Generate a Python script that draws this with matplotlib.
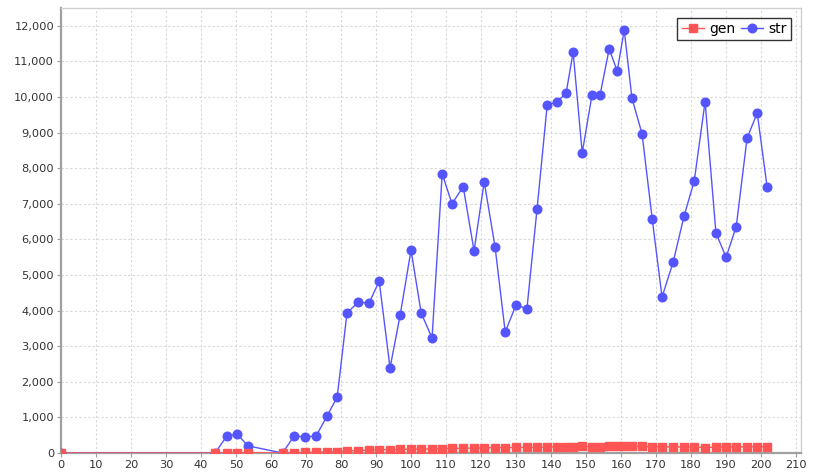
import numpy as np
import matplotlib
matplotlib.use("Agg")
import matplotlib.pyplot as plt
from matplotlib.ticker import FuncFormatter, MultipleLocator

# sample positions shared by both series
x = [0, 44, 47.4, 50.3, 53.4, 63.3, 66.6, 69.7, 72.9, 76,
     78.9, 81.7, 84.9, 88, 90.9, 94, 96.9, 100, 102.9, 106,
     108.9, 111.7, 114.9, 118, 120.9, 124, 126.9, 130, 133.1, 136,
     138.9, 141.7, 144.3, 146.3, 148.9, 151.7, 154, 156.6, 158.9, 160.9,
     163.1, 166, 168.9, 171.7, 174.9, 178, 180.9, 184, 187.1, 190,
     192.9, 196, 198.9, 201.7]

gen = [0, 0, 5, 5, 10, 0, 10, 15, 20, 30,
       40, 55, 70, 80, 90, 95, 100, 105, 110, 115,
       125, 130, 135, 140, 145, 150, 150, 155, 155, 160,
       165, 170, 175, 180, 185, 175, 180, 195, 205, 210,
       195, 185, 180, 175, 170, 170, 165, 150, 165, 170,
       170, 175, 175, 180]

str_vals = [0, 0, 480, 534, 200, 0, 480, 450, 480, 1040,
            1570, 3930, 4240, 4210, 4830, 2390, 3880, 5700, 3930, 3230,
            7840, 7000, 7480, 5680, 7620, 5790, 3400, 4160, 4050, 6860,
            9780, 9860, 10110, 11260, 8430, 10060, 10060, 11350, 10730, 11880,
            9970, 8960, 6570, 4380, 5370, 6660, 7640, 9870, 6180, 5500,
            6360, 8850, 9550, 7480]

fig = plt.figure(figsize=(8.14, 4.75), dpi=100)
ax = fig.add_axes([61/814, 1 - 453/475, 740/814, 445/475])

ax.plot(x, str_vals, color='#5555FF', lw=1.0, marker='o', ms=6.2,
        mec='#5555FF', mfc='#5555FF', label='str', zorder=3)
ax.plot(x, gen, color='#FF5555', lw=1.0, marker='s', ms=5.6,
        mec='#FF5555', mfc='#FF5555', label='gen', zorder=4)

ax.set_xlim(0, 211.4)
ax.set_ylim(0, 12500)
ax.xaxis.set_major_locator(MultipleLocator(10))
ax.yaxis.set_major_locator(MultipleLocator(1000))
ax.yaxis.set_major_formatter(FuncFormatter(lambda v, p: f'{int(v):,}'))

ax.grid(True, color='#d8d8d8', linestyle=(0, (2, 2)), lw=0.8)
ax.set_axisbelow(True)
for s in ['left', 'bottom']:
    ax.spines[s].set_color('#a0a0a0')
    ax.spines[s].set_linewidth(1.6)
for s in ['top', 'right']:
    ax.spines[s].set_color('#d0d0d0')
    ax.spines[s].set_linewidth(1.0)
ax.tick_params(colors='#a0a0a0', labelcolor='#333333', labelsize=8.2,
               length=3, width=0.8, direction='out', pad=2)

h, l = ax.get_legend_handles_labels()
leg = ax.legend(h[::-1], l[::-1], loc='upper right', ncol=2, fontsize=10,
                frameon=True, fancybox=False, edgecolor='black',
                handlelength=1.6, handletextpad=0.4, columnspacing=0.4,
                borderpad=0.3, borderaxespad=0.7)
leg.get_frame().set_linewidth(1.0)

fig.savefig('out.png', dpi=100)
